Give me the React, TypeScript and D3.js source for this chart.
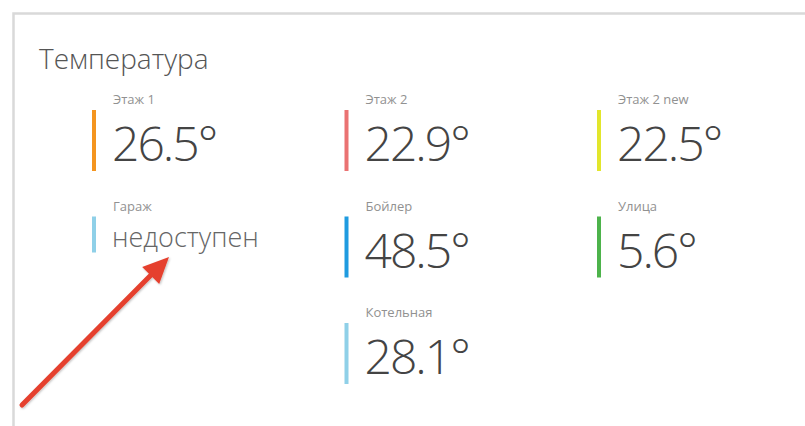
import React, { useEffect, useRef } from 'react';
import * as d3 from 'd3';

// sensors shown on the tile
const sensorNames = ['Этаж 1', 'Этаж 2', 'Этаж 2 new', 'Гараж', 'Бойлер', 'Улица', 'Котельная'];
const sensorValues: (number | null)[] = [26.5, 22.9, 22.5, null, 48.5, 5.6, 28.1];
const sensorCols = [0, 1, 2, 0, 1, 2, 1];
const sensorRows = [0, 0, 0, 1, 1, 1, 2];
const sensorColors = ['#f4951f', '#ea7272', '#e2e62c', '#8fd0e8', '#1f9be0', '#4db34b', '#8fd0e8'];

const title = 'Температура';
const unavailableText = 'недоступен';

// annotation arrow (tail -> tip)
const arrowPoints: [number, number][] = [[22, 405], [169, 257]];

const W = 805;
const H = 426;
const FONT = '"Open Sans", "Segoe UI", sans-serif';

const App: React.FC = () => {
  const svgRef = useRef<SVGSVGElement>(null);

  useEffect(() => {
    if (!svgRef.current) return;
    const svg = d3.select(svgRef.current);
    svg.selectAll('*').remove();

    const defs = svg.append('defs');
    const f = defs.append('filter').attr('id', 'shadow').attr('x', '-20%').attr('y', '-20%')
      .attr('width', '140%').attr('height', '140%');
    f.append('feDropShadow').attr('dx', 1).attr('dy', 1).attr('stdDeviation', 1.2)
      .attr('flood-color', '#000').attr('flood-opacity', 0.25);

    svg.append('rect').attr('width', W).attr('height', H).attr('fill', '#fff');

    // card
    svg.append('rect')
      .attr('x', 13.5).attr('y', 13.5)
      .attr('width', 820).attr('height', 440)
      .attr('fill', '#fff')
      .attr('stroke', '#d9d9d9')
      .attr('stroke-width', 2.5);

    svg.append('text')
      .attr('x', 39).attr('y', 69)
      .attr('font-family', FONT).attr('font-weight', 300)
      .attr('font-size', 28).attr('fill', '#555')
      .text(title);

    const colX = d3.scaleLinear().domain([0, 2]).range([92, 597]);
    const rowY = d3.scaleLinear().domain([0, 2]).range([110, 323]);
    const color = d3.scaleOrdinal<string, string>().domain(sensorNames).range(sensorColors);

    const data = sensorNames.map((name, i) => ({
      name, value: sensorValues[i], col: sensorCols[i], row: sensorRows[i]
    }));

    const items = svg.append('g').selectAll('g')
      .data(data)
      .join('g')
      .attr('transform', d => `translate(${colX(d.col)},${rowY(d.row)})`);

    items.append('rect')
      .attr('x', 0).attr('y', 0)
      .attr('width', 4)
      .attr('height', d => (d.value === null ? 36 : 61))
      .attr('fill', d => color(d.name));

    items.append('text')
      .attr('x', 21).attr('y', -6)
      .attr('font-family', FONT)
      .attr('font-size', 13).attr('fill', '#919191')
      .text(d => d.name);

    items.append('text')
      .attr('x', 20)
      .attr('y', d => (d.value === null ? 30 : 51))
      .attr('font-family', FONT).attr('font-weight', 300)
      .attr('font-size', d => (d.value === null ? 27 : 48))
      .attr('letter-spacing', d => (d.value === null ? 0 : -2))
      .attr('fill', d => (d.value === null ? '#666' : '#444'))
      .text(d => (d.value === null ? unavailableText : `${d3.format('.1f')(d.value)}°`));

    // red arrow
    const [[x0, y0], [x1, y1]] = arrowPoints;
    const len = Math.hypot(x1 - x0, y1 - y0);
    const ux = (x1 - x0) / len, uy = (y1 - y0) / len;
    const headLen = 26, headHalf = 12;
    const bx = x1 - ux * headLen, by = y1 - uy * headLen;
    const arrow = svg.append('g').attr('filter', 'url(#shadow)');
    arrow.append('line')
      .attr('x1', x0).attr('y1', y0)
      .attr('x2', bx + ux * 4).attr('y2', by + uy * 4)
      .attr('stroke', '#e5412f').attr('stroke-width', 5).attr('stroke-linecap', 'round');
    arrow.append('path')
      .attr('d', d3.line()([
        [x1, y1],
        [bx - uy * headHalf, by + ux * headHalf],
        [bx + uy * headHalf, by - ux * headHalf]
      ]) + 'Z')
      .attr('fill', '#e5412f');
  }, []);

  return (
    <svg
      ref={svgRef}
      width={W}
      height={H}
      style={{ position: 'absolute', left: 0, top: 0, display: 'block' }}
    />
  );
};

export default App;
